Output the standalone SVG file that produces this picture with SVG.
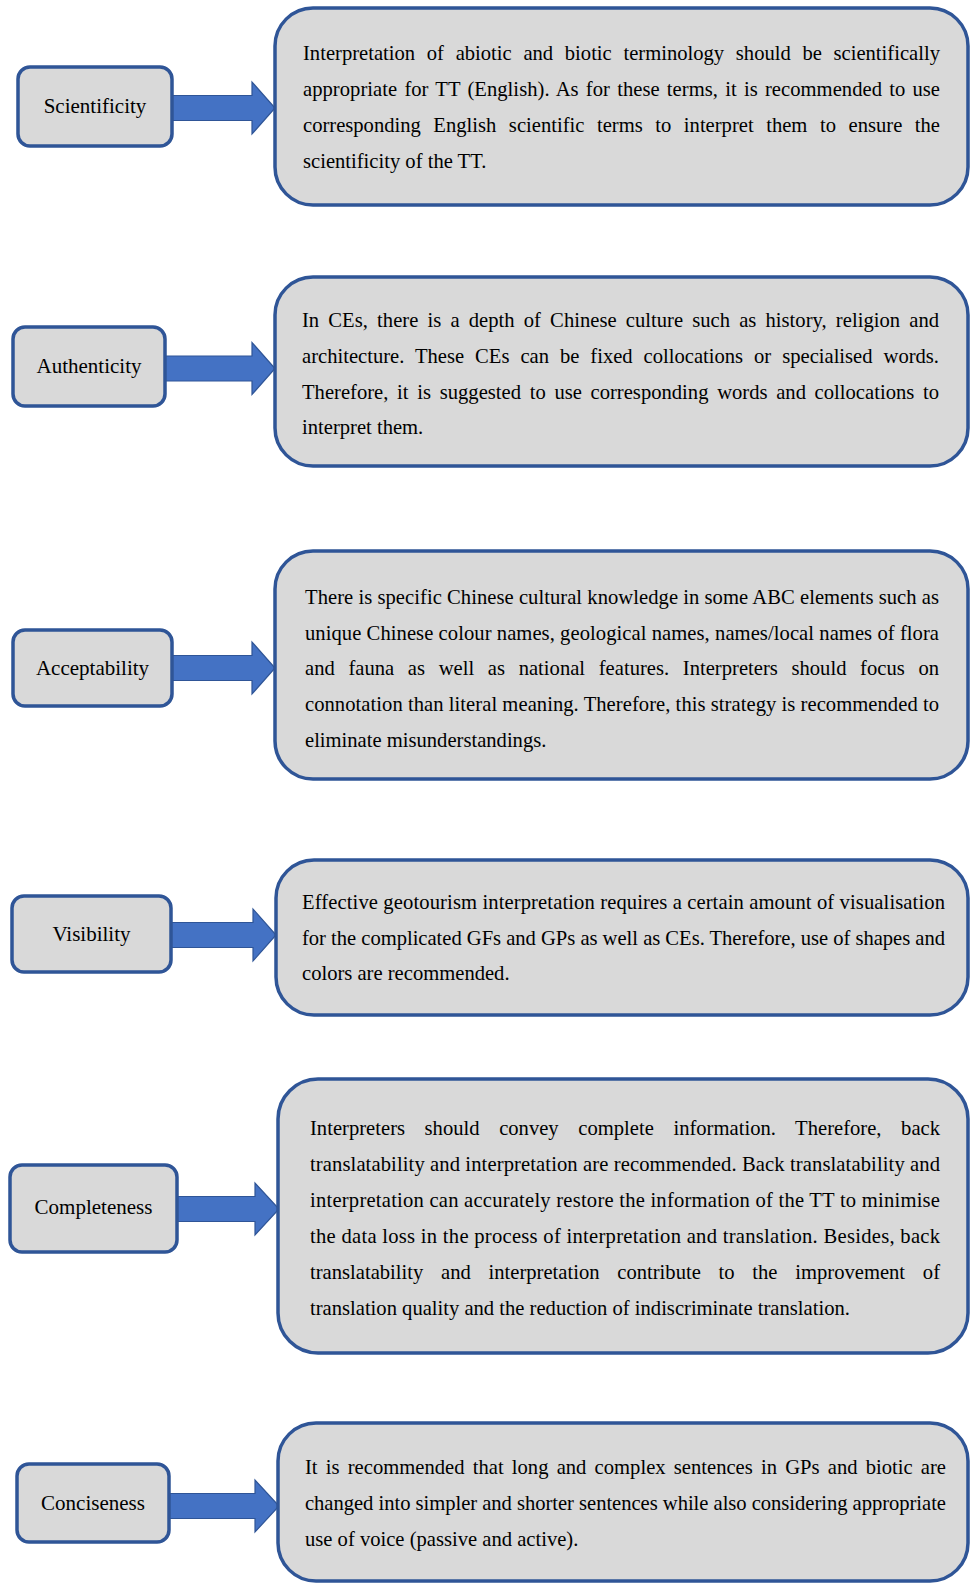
<svg xmlns="http://www.w3.org/2000/svg" width="970" height="1583" viewBox="0 0 970 1583">
<defs>
<style>
.lbl{fill:#d9d9d9;stroke:#2f5597;stroke-width:3.5}
.box{fill:#d9d9d9;stroke:#2f5597;stroke-width:3.5}
.arr{fill:#4472c4;stroke:#2f5597;stroke-width:1.2}
.lt{font-family:"Liberation Serif","Times New Roman",serif;font-size:21px;fill:#000;text-anchor:middle}
.bt{font-family:"Liberation Serif","Times New Roman",serif;font-size:20.6px;fill:#000}
</style>
</defs>
<rect width="970" height="1583" fill="#fff"/>
<g id="connectors">
<path class="arr" d="M172,95.5 H252 V82 L275,108 L252,134 V120.5 H172 Z"/>
<path class="arr" d="M165,356 H252 V342.5 L275,368.5 L252,394.5 V381 H165 Z"/>
<path class="arr" d="M172,655.5 H252 V642 L275,668 L252,694 V680.5 H172 Z"/>
<path class="arr" d="M171,922.5 H253 V909 L276,935 L253,961 V947.5 H171 Z"/>
<path class="arr" d="M177,1196.5 H255 V1183 L279,1209 L255,1235 V1221.5 H177 Z"/>
<path class="arr" d="M169,1493.5 H255 V1480 L279,1506 L255,1532 V1518.5 H169 Z"/>
</g>
<g id="scientificity">
<rect class="lbl" x="18" y="67" width="154" height="79" rx="12"/>
<text class="lt" x="95" y="113">Scientificity</text>
</g>
<g id="scientificity-desc">
<rect class="box" x="275" y="8" width="693" height="197" rx="38"/>
<text class="bt" x="303" y="60" word-spacing="6.5" textLength="637" lengthAdjust="spacing">Interpretation of abiotic and biotic terminology should be scientifically</text>
<text class="bt" x="303" y="96" word-spacing="2" textLength="637" lengthAdjust="spacing">appropriate for TT (English). As for these terms, it is recommended to use</text>
<text class="bt" x="303" y="132" word-spacing="7.4" textLength="637" lengthAdjust="spacing">corresponding English scientific terms to interpret them to ensure the</text>
<text class="bt" x="303" y="168">scientificity of the TT.</text>
</g>
<g id="authenticity">
<rect class="lbl" x="13" y="327" width="152" height="79" rx="12"/>
<text class="lt" x="89" y="373">Authenticity</text>
</g>
<g id="authenticity-desc">
<rect class="box" x="275" y="277" width="693" height="189" rx="38"/>
<text class="bt" x="302" y="327" word-spacing="4" textLength="637" lengthAdjust="spacing">In CEs, there is a depth of Chinese culture such as history, religion and</text>
<text class="bt" x="302" y="363" word-spacing="5.8" textLength="637" lengthAdjust="spacing">architecture. These CEs can be fixed collocations or specialised words.</text>
<text class="bt" x="302" y="398.5" word-spacing="3.5" textLength="637" lengthAdjust="spacing">Therefore, it is suggested to use corresponding words and collocations to</text>
<text class="bt" x="302" y="434">interpret them.</text>
</g>
<g id="acceptability">
<rect class="lbl" x="13" y="630" width="159" height="76" rx="12"/>
<text class="lt" x="92.5" y="674.5">Acceptability</text>
</g>
<g id="acceptability-desc">
<rect class="box" x="275" y="551" width="693" height="228" rx="38"/>
<text class="bt" x="305" y="603.5" textLength="634" lengthAdjust="spacing">There is specific Chinese cultural knowledge in some ABC elements such as</text>
<text class="bt" x="305" y="639.5" textLength="634" lengthAdjust="spacing">unique Chinese colour names, geological names, names/local names of flora</text>
<text class="bt" x="305" y="675" word-spacing="8.5" textLength="634" lengthAdjust="spacing">and fauna as well as national features. Interpreters should focus on</text>
<text class="bt" x="305" y="711" textLength="634" lengthAdjust="spacing">connotation than literal meaning. Therefore, this strategy is recommended to</text>
<text class="bt" x="305" y="747">eliminate misunderstandings.</text>
</g>
<g id="visibility">
<rect class="lbl" x="12" y="896" width="159" height="76" rx="12"/>
<text class="lt" x="91.5" y="940.5">Visibility</text>
</g>
<g id="visibility-desc">
<rect class="box" x="276" y="860" width="692" height="155" rx="38"/>
<text class="bt" x="302" y="908.5" textLength="643" lengthAdjust="spacing">Effective geotourism interpretation requires a certain amount of visualisation</text>
<text class="bt" x="302" y="945" textLength="643" lengthAdjust="spacing">for the complicated GFs and GPs as well as CEs. Therefore, use of shapes and</text>
<text class="bt" x="302" y="980">colors are recommended.</text>
</g>
<g id="completeness">
<rect class="lbl" x="10" y="1165" width="167" height="87" rx="12"/>
<text class="lt" x="93.5" y="1214">Completeness</text>
</g>
<g id="completeness-desc">
<rect class="box" x="278" y="1079" width="690" height="274" rx="40"/>
<text class="bt" x="310" y="1135" word-spacing="14.4" textLength="630" lengthAdjust="spacing">Interpreters should convey complete information. Therefore, back</text>
<text class="bt" x="310" y="1171" textLength="630" lengthAdjust="spacing">translatability and interpretation are recommended. Back translatability and</text>
<text class="bt" x="310" y="1207" textLength="630" lengthAdjust="spacing">interpretation can accurately restore the information of the TT to minimise</text>
<text class="bt" x="310" y="1243" textLength="630" lengthAdjust="spacing">the data loss in the process of interpretation and translation. Besides, back</text>
<text class="bt" x="310" y="1279" word-spacing="12.6" textLength="630" lengthAdjust="spacing">translatability and interpretation contribute to the improvement of</text>
<text class="bt" x="310" y="1315">translation quality and the reduction of indiscriminate translation.</text>
</g>
<g id="conciseness">
<rect class="lbl" x="17" y="1464" width="152" height="78" rx="12"/>
<text class="lt" x="93" y="1510">Conciseness</text>
</g>
<g id="conciseness-desc">
<rect class="box" x="278" y="1423" width="690" height="158" rx="38"/>
<text class="bt" x="305" y="1474" word-spacing="3" textLength="641" lengthAdjust="spacing">It is recommended that long and complex sentences in GPs and biotic are</text>
<text class="bt" x="305" y="1510" textLength="641" lengthAdjust="spacing">changed into simpler and shorter sentences while also considering appropriate</text>
<text class="bt" x="305" y="1546">use of voice (passive and active).</text>
</g>
</svg>
